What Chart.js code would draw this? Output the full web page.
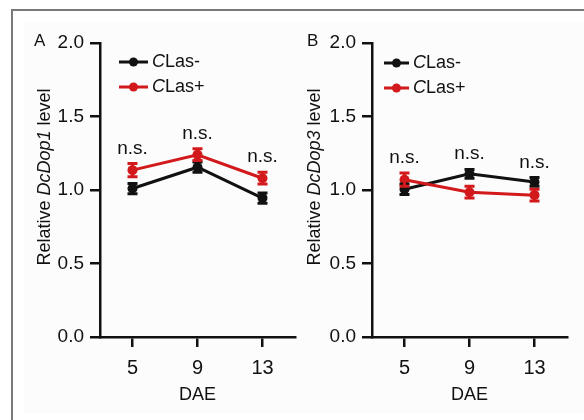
<!DOCTYPE html>
<html lang="en">
<head>
<meta charset="UTF-8">
<title>DcDop1 / DcDop3 relative level</title>
<script src="https://cdn.jsdelivr.net/npm/chart.js"></script>
<style>
  html, body { margin: 0; padding: 0; background: #fff; }
  #page { position: relative; width: 584px; height: 420px; overflow: hidden; }
  #frame { position: absolute; left: 11px; top: 9px; width: 600px; height: 440px;
           border-left: 2px solid #7a7a7a; border-top: 2px solid #7a7a7a; }
  #inner { position: absolute; left: 24px; top: 22px; width: 560px; height: 391px; background: #fcfcfc; }
  canvas { position: absolute; top: 0; }
  #chartA { left: 0; }
  #chartB { left: 300px; }
</style>
</head>
<body>
<div id="page">
  <div id="frame"></div>
  <div id="inner"></div>
  <canvas id="chartA" width="300" height="420"></canvas>
  <canvas id="chartB" width="284" height="420"></canvas>
</div>

<script>
// values
const DAE = [5, 9, 13];
const Y_TICKS = [0, 0.5, 1.0, 1.5, 2.0];
const SERIES_NAMES = ['CLas-', 'CLas+'];
const SIG_LABELS = ['n.s.', 'n.s.', 'n.s.'];

const DOP1_NEG = [1.01, 1.155, 0.945];
const DOP1_NEG_ERR = [0.035, 0.035, 0.035];
const DOP1_POS = [1.135, 1.24, 1.08];
const DOP1_POS_ERR = [0.045, 0.04, 0.04];

const DOP3_NEG = [1.005, 1.11, 1.055];
const DOP3_NEG_ERR = [0.035, 0.03, 0.03];
const DOP3_POS = [1.07, 0.985, 0.965];
const DOP3_POS_ERR = [0.045, 0.04, 0.04];

const FONT = "'Liberation Sans', Arial, Helvetica, sans-serif";
const BLACK = '#111111';
const RED = '#d2191c';

function toPoints(values) {
    return values.map((v, i) => ({ x: DAE[i], y: v }));
}

// error bars + n.s. labels over each DAE
const errorBarPlugin = {
    id: 'errorBars',
    afterDatasetsDraw(chart) {
        const ctx = chart.ctx;
        const xs = chart.scales.x, ys = chart.scales.y;
        const tops = DAE.map(() => Infinity);
        ctx.save();
        chart.data.datasets.forEach((ds) => {
            ctx.strokeStyle = ds.borderColor;
            ctx.lineWidth = 3;
            ds.data.forEach((p, i) => {
                const e = ds.errors[i];
                const x = xs.getPixelForValue(p.x);
                const y1 = ys.getPixelForValue(p.y + e);
                const y2 = ys.getPixelForValue(p.y - e);
                tops[i] = Math.min(tops[i], y1);
                ctx.beginPath();
                ctx.moveTo(x, y1); ctx.lineTo(x, y2);
                ctx.moveTo(x - 5, y1); ctx.lineTo(x + 5, y1);
                ctx.moveTo(x - 5, y2); ctx.lineTo(x + 5, y2);
                ctx.stroke();
            });
        });
        ctx.fillStyle = BLACK;
        ctx.font = `19px ${FONT}`;
        ctx.textAlign = 'center';
        ctx.textBaseline = 'alphabetic';
        SIG_LABELS.forEach((s, i) => {
            ctx.fillText(s, xs.getPixelForValue(DAE[i]), tops[i] - 10);
        });
        ctx.restore();
    }
};

// legend, y title with italic gene name, panel letter
const decorPlugin = {
    id: 'decor',
    afterDraw(chart, args, opts) {
        const ctx = chart.ctx;
        const area = chart.chartArea;
        ctx.save();

        // panel letter
        ctx.fillStyle = BLACK;
        ctx.font = `17px ${FONT}`;
        ctx.textAlign = 'left';
        ctx.textBaseline = 'middle';
        ctx.fillText(opts.letter, opts.letterX, 41);

        // legend
        chart.data.datasets.forEach((ds, i) => {
            const y = opts.legendY + i * 25;
            const x1 = area.left + opts.legendX;
            const x2 = x1 + opts.legendLen;
            ctx.strokeStyle = ds.borderColor;
            ctx.fillStyle = ds.borderColor;
            ctx.lineWidth = 3;
            ctx.beginPath();
            ctx.moveTo(x1, y); ctx.lineTo(x2, y);
            ctx.stroke();
            ctx.beginPath();
            ctx.arc((x1 + x2) / 2, y, 4.5, 0, Math.PI * 2);
            ctx.fill();

            ctx.fillStyle = BLACK;
            ctx.textBaseline = 'middle';
            let tx = x2 + 4;
            ctx.font = `italic 18px ${FONT}`;
            ctx.fillText(ds.label[0], tx, y);
            tx += ctx.measureText(ds.label[0]).width;
            ctx.font = `18px ${FONT}`;
            ctx.fillText(ds.label.slice(1), tx, y);
        });

        // rotated y title: "Relative " + italic gene + " level"
        const parts = [
            { t: 'Relative ', f: `18px ${FONT}` },
            { t: opts.gene, f: `italic 18px ${FONT}` },
            { t: ' level', f: `18px ${FONT}` }
        ];
        let total = 0;
        parts.forEach(p => { ctx.font = p.f; p.w = ctx.measureText(p.t).width; total += p.w; });
        ctx.translate(area.left - opts.titleOffset, opts.titleY);
        ctx.rotate(-Math.PI / 2);
        ctx.textBaseline = 'middle';
        ctx.textAlign = 'left';
        let px = -total / 2;
        parts.forEach(p => { ctx.font = p.f; ctx.fillText(p.t, px, 0); px += p.w; });
        ctx.restore();
    }
};

function makeChart(id, neg, negErr, pos, posErr, yWidth, padRight, decor) {
    const ctx = document.getElementById(id).getContext('2d');
    return new Chart(ctx, {
        type: 'line',
        data: {
            datasets: [
                { label: SERIES_NAMES[0], data: toPoints(neg), errors: negErr,
                  borderColor: BLACK, backgroundColor: BLACK, order: 2 },
                { label: SERIES_NAMES[1], data: toPoints(pos), errors: posErr,
                  borderColor: RED, backgroundColor: RED, order: 1 }
            ]
        },
        options: {
            responsive: false,
            animation: false,
            layout: { padding: { left: 0, right: padRight, top: 43, bottom: 0 } },
            elements: {
                line: { borderWidth: 3, tension: 0 },
                point: { radius: 5, borderWidth: 0, hoverRadius: 5 }
            },
            plugins: {
                legend: { display: false },
                tooltip: { enabled: false },
                decor: decor
            },
            scales: {
                x: {
                    type: 'linear',
                    min: 3, max: 15,
                    afterBuildTicks: (s) => { s.ticks = DAE.map(v => ({ value: v })); },
                    afterFit: (s) => { s.height = 83; },
                    border: { color: BLACK, width: 2.5 },
                    grid: { drawOnChartArea: false, drawTicks: true, tickLength: 10, color: BLACK, lineWidth: 2.5 },
                    ticks: { color: BLACK, padding: 9, font: { family: FONT, size: 20 } },
                    title: { display: true, text: 'DAE', color: BLACK,
                             font: { family: FONT, size: 18 }, padding: { top: 0, bottom: 14 } }
                },
                y: {
                    min: 0, max: 2,
                    afterBuildTicks: (s) => { s.ticks = Y_TICKS.map(v => ({ value: v })); },
                    afterFit: (s) => { s.width = yWidth; },
                    border: { color: BLACK, width: 2.5 },
                    grid: { drawOnChartArea: false, drawTicks: true, tickLength: 10, color: BLACK, lineWidth: 2.5 },
                    ticks: { color: BLACK, padding: 6, font: { family: FONT, size: 19 },
                             callback: (v) => v.toFixed(1) }
                }
            }
        },
        plugins: [errorBarPlugin, decorPlugin]
    });
}

makeChart('chartA', DOP1_NEG, DOP1_NEG_ERR, DOP1_POS, DOP1_POS_ERR, 100, 3,
    { letter: 'A', letterX: 34, gene: 'DcDop1', legendX: 19, legendLen: 29, legendY: 62,
      titleOffset: 55, titleY: 177 });
makeChart('chartB', DOP3_NEG, DOP3_NEG_ERR, DOP3_POS, DOP3_POS_ERR, 72, 17,
    { letter: 'B', letterX: 7, gene: 'DcDop3', legendX: 12, legendLen: 25, legendY: 63,
      titleOffset: 57, titleY: 177 });
</script>
</body>
</html>
